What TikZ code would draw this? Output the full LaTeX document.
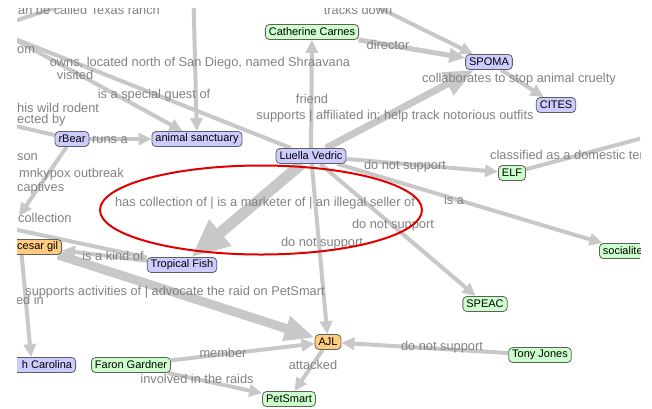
\documentclass[tikz,border=0pt]{standalone}
\usepackage{fontspec}
\setmainfont{Liberation Sans}
\usetikzlibrary{arrows.meta}
\definecolor{edgegray}{RGB}{200,200,200}
\definecolor{lblgray}{RGB}{130,130,130}
\definecolor{bluefill}{RGB}{204,204,255}
\definecolor{greenfill}{RGB}{204,255,204}
\definecolor{orangefill}{RGB}{255,204,128}
\definecolor{nodeborder}{RGB}{95,95,95}
\definecolor{ringred}{RGB}{225,0,0}
\pgfdeclarelayer{bg}
\pgfdeclarelayer{edges}
\pgfdeclarelayer{labels}
\pgfsetlayers{bg,edges,labels,main}
\begin{document}
\begin{tikzpicture}[x=1pt,y=-1pt,
  ent/.style={draw=nodeborder, line width=0.8pt, rounded corners=4pt, inner xsep=3.5pt, inner ysep=0pt, minimum height=15pt, font=\fontsize{11}{12}\selectfont, text=black},
  bluenode/.style={ent, fill=bluefill},
  greennode/.style={ent, fill=greenfill},
  orangenode/.style={ent, fill=orangefill},
  rel/.style={draw=edgegray, line width=4pt, -{Triangle[length=13pt,width=12pt]}},
  relplain/.style={draw=edgegray, line width=4pt},
  lbl/.style={text=lblgray, font=\fontsize{12.8}{13}\selectfont, inner sep=0pt},
]
\useasboundingbox (0,0) rectangle (652,408);
\begin{pgfonlayer}{bg}
\fill[white] (0,0) rectangle (652,408);
\end{pgfonlayer}
\begin{scope}
\clip (17,8) rectangle (640,408);
% nodes
\node[greennode] (carnes) at (312,32) {Catherine Carnes};
\node[bluenode] (spoma) at (489,62) {SPOMA};
\node[bluenode] (cites) at (556,105) {CITES};
\node[bluenode] (sanct) at (197,139) {animal sanctuary};
\node[bluenode] (rbear) at (72,139) {rBear};
\node[bluenode] (luella) at (311,156) {Luella Vedric};
\node[greennode] (elf) at (512,173) {ELF};
\node[greennode, anchor=west] (social) at (599,251) {socialite\hspace*{12pt}};
\node[orangenode, anchor=east] (cesar) at (62,247) {\hspace*{8pt}cesar gil};
\node[bluenode] (fish) at (182,265) {Tropical Fish};
\node[greennode] (speac) at (485,304) {SPEAC};
\node[orangenode] (ajl) at (328,342) {AJL};
\node[greennode] (tony) at (540,355) {Tony Jones};
\node[greennode] (faron) at (131,365) {Faron Gardner};
\node[greennode] (petsmart) at (289,399) {PetSmart};
\node[bluenode, anchor=east] (carolina) at (76,365) {\hspace*{8pt}h Carolina};
% off-canvas ends
\coordinate (topsanct) at (193,-20);
\coordinate (leftA) at (-30,15);
\coordinate (leftB) at (-20,25);
\coordinate (leftC) at (-20,118);
\coordinate (leftE) at (-20,222);
\coordinate (topspoma) at (333,-15);
\coordinate (rightelf) at (680,128);
\coordinate (toptexas) at (120,-10);
\coordinate (lefttexas) at (-10,30);
\coordinate (rbeartip) at (19,216);
% red ring
\draw[ringred, line width=2pt] (261,210) ellipse [x radius=161, y radius=44.5];
\end{scope}
\begin{pgfonlayer}{edges}
\clip (17,8) rectangle (640,408);
\draw[relplain] (lefttexas) .. controls (40,12) .. (toptexas);
\draw[rel] (leftA) -- (sanct);
\draw[rel] (topsanct) -- (sanct);
\draw[relplain] (leftB) -- (luella);
\draw[relplain] (leftC) -- (rbear);
\draw[rel] (rbear) -- (rbeartip);
\draw[rel] (rbear) -- (sanct);
\draw[relplain] (leftE) -- (fish);
\draw[rel] (fish) -- (cesar);
\draw[rel] ([xshift=-12pt]cesar.south) -- ([xshift=-12pt]carolina.north);
\draw[draw=edgegray, line width=9pt, -{Triangle[length=30pt,width=24pt]}] (cesar) -- (ajl);
\draw[draw=edgegray, line width=11pt, -{Triangle[length=38pt,width=32pt]}] (luella) -- (fish);
\draw[draw=edgegray, line width=7pt, -{Triangle[length=30pt,width=24pt]}] (luella) -- (spoma);
\draw[rel] (luella) -- (carnes);
\draw[draw=edgegray, line width=5pt, -{Triangle[length=16pt,width=14pt]}] (carnes) -- (spoma);
\draw[rel] (topspoma) -- (spoma);
\draw[rel] (spoma) -- (cites);
\draw[rel] (luella) -- (elf);
\draw[relplain] (elf) -- (rightelf);
\draw[rel] (luella) -- (social);
\draw[rel] (luella) -- (speac);
\draw[rel] (luella) -- (ajl);
\draw[rel] (tony) -- (ajl);
\draw[rel] (ajl) -- (petsmart);
\draw[rel] (faron) -- (ajl);
\draw[rel] (faron) -- (petsmart);
\end{pgfonlayer}
\begin{pgfonlayer}{labels}
\clip (17,8) rectangle (640,408);
\node[lbl, anchor=west] (l1) at (18,10) {an be called Texas ranch};
\node[lbl] (l2) at (75,75) {visited};
\node[lbl] (l3) at (200,63) {owns, located north of San Diego, named Shraavana};
\node[lbl] (l4) at (154,95) {is a special guest of};
\node[lbl, anchor=west] (l5) at (17,108) {his wild rodent};
\node[lbl, anchor=west] (l6) at (17,120) {ected by};
\node[lbl, anchor=west] (l7) at (17,157) {son};
\node[lbl, anchor=west] (l8) at (19,174) {mnkypox outbreak};
\node[lbl, anchor=west] (l9) at (17,188) {captives};
\node[lbl] (l10) at (110,140) {runs a};
\node[lbl, anchor=west] (l11) at (18,218) {collection};
\node[lbl] (l12) at (113,256) {is a kind of};
\node[lbl, anchor=east] (l13) at (44,300) {ed in};
\node[lbl] (l14) at (175,292) {supports activities of | advocate the raid on PetSmart};
\node[lbl] (l15) at (265,203) {has collection of | is a marketer of | an illegal seller of};
\node[lbl] (l16) at (395,116) {supports | affiliated in; help track notorious outfits};
\node[lbl] (l17) at (312,99) {friend};
\node[lbl] (l18) at (388,45) {director};
\node[lbl] (l19) at (358,10) {tracks down};
\node[lbl] (l20) at (519,79) {collaborates to stop animal cruelty};
\node[lbl] (l21) at (405,166) {do not support};
\node[lbl, anchor=west] (l22) at (490,155) {classified as a domestic ter};
\node[lbl] (l23) at (454,200) {is a};
\node[lbl] (l24) at (393,225) {do not support};
\node[lbl] (l25) at (322,243) {do not support};
\node[lbl] (l26) at (442,347) {do not support};
\node[lbl] (l27) at (313,365) {attacked};
\node[lbl] (l28) at (223,353) {member};
\node[lbl] (l29) at (197,379) {involved in the raids};
\node[lbl, anchor=west] (l30) at (17,50) {om};
\end{pgfonlayer}
\end{tikzpicture}
\end{document}
